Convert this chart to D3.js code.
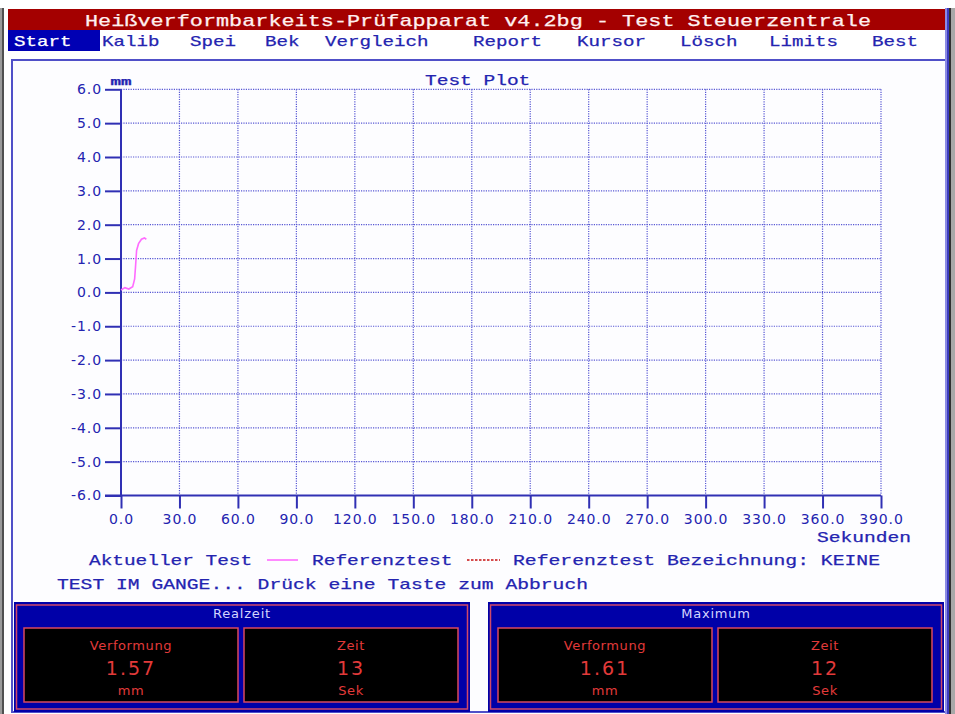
<!DOCTYPE html>
<html>
<head>
<meta charset="utf-8">
<script src="https://cdn.jsdelivr.net/npm/d3@7"></script>
<style>
  html, body { margin: 0; padding: 0; background: #ffffff; }
  svg { display: block; }
  .mono { font-family: "Liberation Mono", "DejaVu Sans Mono", monospace; }
  .sans { font-family: "DejaVu Sans", "Liberation Sans", sans-serif; }
</style>
</head>
<body>
<svg id="screen" width="955" height="714"></svg>
<script>
// ---- data ----
const windowTitle = "Heißverformbarkeits-Prüfapparat v4.2bg - Test Steuerzentrale";
const menuItems = ["Start", "Kalib", "Spei", "Bek", "Vergleich", "Report", "Kursor", "Lösch", "Limits", "Best"];
const plotTitle = "Test Plot";
const yUnit = "mm";
const xUnit = "Sekunden";
const xTicks = [0, 30, 60, 90, 120, 150, 180, 210, 240, 270, 300, 330, 360, 390];
const yTicks = [6, 5, 4, 3, 2, 1, 0, -1, -2, -3, -4, -5, -6];
// current test: time (s) and deformation (mm)
const timeSec  = [0,    2,    4,    6,    7,    7.5,  8,    9,    10.5, 12,   13];
const deformMm = [0.07, 0.14, 0.10, 0.17, 0.40, 0.80, 1.24, 1.44, 1.57, 1.61, 1.57];
const legendCurrent = "Aktueller Test";
const legendReference = "Referenztest";
const legendRefName = "Referenztest Bezeichnung: KEINE";
const statusLine = "TEST IM GANGE... Drück eine Taste zum Abbruch";
const panelTitles = ["Realzeit", "Maximum"];
const panelLabels = ["Verformung", "Zeit"];
const panelUnits = ["mm", "Sek"];
const realDeform = 1.57, realTime = 13;
const maxDeform = 1.61, maxTime = 12;

// ---- layout ----
const svg = d3.select("#screen");
const BLUE_TXT = "#2424b0";
const GRID = "#5858d4";
const AXIS = "#3030b4";

// monospace text stretched to a fixed character pitch
function mono(g, x, y, str, pitch, opts = {}) {
  return g.append("text").attr("class", "mono")
    .attr("x", x).attr("y", y)
    .attr("font-size", opts.size || 15)
    .attr("font-weight", opts.weight || "normal")
    .attr("fill", opts.fill || BLUE_TXT)
    .attr("stroke", opts.fill || BLUE_TXT).attr("stroke-width", 0.25)
    .attr("text-anchor", opts.anchor || "start")
    .attr("textLength", str.length * pitch)
    .attr("lengthAdjust", "spacingAndGlyphs")
    .text(str);
}

// window frame
svg.append("rect").attr("x", 0).attr("y", 0).attr("width", 955).attr("height", 714).attr("fill", "#ffffff");
svg.append("rect").attr("x", 0).attr("y", 8).attr("width", 2).attr("height", 706).attr("fill", "#9a9a9a");
svg.append("rect").attr("x", 2).attr("y", 8).attr("width", 2).attr("height", 706).attr("fill", "#505050");

// title bar
svg.append("rect").attr("x", 8).attr("y", 9).attr("width", 940).attr("height", 21).attr("fill", "#a40000");
mono(svg, 478, 26, windowTitle, 13.1, { size: 17, fill: "#fff0f0", anchor: "middle" });

// menu bar
const menuX = [14, 102, 190, 265, 325, 473, 577, 680, 769, 872];
svg.append("rect").attr("x", 8).attr("y", 30).attr("width", 92).attr("height", 21).attr("fill", "#0000b4");
menuItems.forEach((m, i) => {
  mono(svg, menuX[i], 46, m, 11.5, { size: 15, fill: i === 0 ? "#ffffff" : BLUE_TXT });
});

// content frame
svg.append("rect").attr("x", 12).attr("y", 60).attr("width", 934).attr("height", 652)
  .attr("fill", "#fdfdff").attr("stroke", "#5050c8").attr("stroke-width", 2);
svg.append("rect").attr("x", 945).attr("y", 8).attr("width", 2).attr("height", 706).attr("fill", "#8c8ce4");
svg.append("rect").attr("x", 947).attr("y", 8).attr("width", 2).attr("height", 706).attr("fill", "#3c3cc0");
svg.append("rect").attr("x", 949).attr("y", 8).attr("width", 2).attr("height", 706).attr("fill", "#303030");
svg.append("rect").attr("x", 951).attr("y", 8).attr("width", 4).attr("height", 706).attr("fill", "#a8a8a8");

// ---- plot ----
const x = d3.scaleLinear().domain([0, 390]).range([121, 881]);
const y = d3.scaleLinear().domain([-6, 6]).range([495.5, 89.3]);
const fmt = d => d.toFixed(1); // plain hyphen for negatives

const grid = svg.append("g");
grid.selectAll("line.v").data(xTicks.filter(d => d !== 0)).join("line")
  .attr("x1", d => x(d)).attr("x2", d => x(d))
  .attr("y1", y(6)).attr("y2", y(-6))
  .attr("stroke", GRID).attr("stroke-width", 1.2).attr("stroke-dasharray", "1.2,1.2");
grid.selectAll("line.h").data(yTicks.filter(d => d !== -6)).join("line")
  .attr("x1", x(0)).attr("x2", x(390))
  .attr("y1", d => y(d)).attr("y2", d => y(d))
  .attr("stroke", GRID).attr("stroke-width", 1.2).attr("stroke-dasharray", "1.2,1.2");

const yAxis = svg.append("g").attr("transform", `translate(${x(0)},0)`)
  .call(d3.axisLeft(y).tickValues(yTicks).tickSize(16).tickPadding(3).tickFormat(fmt));
const xAxis = svg.append("g").attr("transform", `translate(0,${y(-6)})`)
  .call(d3.axisBottom(x).tickValues(xTicks).tickSize(13).tickPadding(6).tickFormat(fmt));

[yAxis, xAxis].forEach(a => {
  a.select(".domain").remove();
  a.selectAll(".tick line").attr("stroke", AXIS).attr("stroke-width", 2);
  a.selectAll(".tick text").attr("fill", BLUE_TXT)
    .attr("font-size", 14).attr("letter-spacing", 0.9).attr("font-family", "DejaVu Sans, sans-serif");
});
// solid axis lines
svg.append("line").attr("x1", x(0)).attr("x2", x(0)).attr("y1", y(6)).attr("y2", y(-6))
  .attr("stroke", AXIS).attr("stroke-width", 2);
svg.append("line").attr("x1", x(0) - 16).attr("x2", x(390)).attr("y1", y(-6)).attr("y2", y(-6))
  .attr("stroke", AXIS).attr("stroke-width", 2);

// labels
mono(svg, x(0), 85, yUnit, 10.5, { size: 11, anchor: "middle", weight: "bold" });
mono(svg, 425, 85, plotTitle, 11.7, { size: 15 });
mono(svg, 817, 541.5, xUnit, 11.75, { size: 15 });

// current test curve
svg.append("path").datum(timeSec.map((t, i) => [t, deformMm[i]]))
  .attr("d", d3.line().x(d => x(d[0])).y(d => y(d[1])))
  .attr("fill", "none").attr("stroke", "#ff6cff").attr("stroke-width", 1.6);

// legend
mono(svg, 89, 564.5, legendCurrent, 11.65, { size: 15 });
svg.append("line").attr("x1", 267).attr("x2", 298).attr("y1", 560).attr("y2", 560)
  .attr("stroke", "#ff6cff").attr("stroke-width", 1.6);
mono(svg, 312, 564.5, legendReference, 11.7, { size: 15 });
svg.append("line").attr("x1", 467).attr("x2", 500).attr("y1", 560).attr("y2", 560)
  .attr("stroke", "#c81010").attr("stroke-width", 1.4).attr("stroke-dasharray", "2.5,1.5");
mono(svg, 513, 564.5, legendRefName, 11.84, { size: 15 });
mono(svg, 57, 589, statusLine, 11.8, { size: 15 });

// ---- readout panels ----
const panels = [
  { x0: 14, title: panelTitles[0], values: [d3.format(".2f")(realDeform), String(realTime)] },
  { x0: 488, title: panelTitles[1], values: [d3.format(".2f")(maxDeform), String(maxTime)] }
];
const RED = "#e23a3a";
panels.forEach(p => {
  const g = svg.append("g").attr("transform", `translate(${p.x0},0)`);
  g.append("rect").attr("x", 0).attr("y", 602).attr("width", 456).attr("height", 110).attr("fill", "#0000a8");
  g.append("rect").attr("x", 2.5).attr("y", 605).attr("width", 451).attr("height", 104)
    .attr("fill", "none").attr("stroke", "#d04868").attr("stroke-width", 1.5);
  g.append("text").attr("class", "sans").attr("x", 228).attr("y", 618)
    .attr("text-anchor", "middle").attr("font-size", 13).attr("fill", "#d4d4ff")
    .attr("letter-spacing", 0.8).text(p.title);
  [0, 1].forEach(k => {
    const bx = 10 + k * 220;
    g.append("rect").attr("x", bx).attr("y", 628).attr("width", 214).attr("height", 74)
      .attr("fill", "#000000").attr("stroke", "#d84860").attr("stroke-width", 1.5);
    const cx = bx + 107;
    g.append("text").attr("class", "sans").attr("x", cx).attr("y", 649.5).attr("text-anchor", "middle")
      .attr("font-size", 13).attr("letter-spacing", 0.6).attr("fill", RED).text(panelLabels[k]);
    g.append("text").attr("class", "sans").attr("x", cx).attr("y", 675).attr("text-anchor", "middle")
      .attr("font-size", 19).attr("letter-spacing", 2).attr("fill", RED).text(p.values[k]);
    g.append("text").attr("class", "sans").attr("x", cx).attr("y", 695).attr("text-anchor", "middle")
      .attr("font-size", 13).attr("letter-spacing", 0.6).attr("fill", RED).text(panelUnits[k]);
  });
});
</script>
</body>
</html>
